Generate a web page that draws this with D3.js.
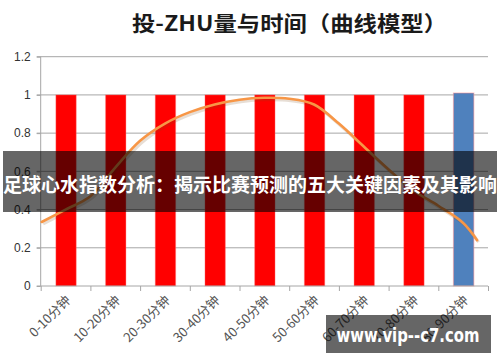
<!DOCTYPE html>
<html><head><meta charset="utf-8">
<script src="https://cdn.jsdelivr.net/npm/d3@7"></script>
<style>
html,body{margin:0;padding:0;background:#fff;}
svg{display:block;}
</style></head>
<body>
<script>
const categories = ["0-10分钟","10-20分钟","20-30分钟","30-40分钟","40-50分钟","50-60分钟","60-70分钟","70-80分钟","80-90分钟"];
const barValues = [1,1,1,1,1,1,1,1,1.01];
const highlightIndex = 8;
const yTicks = [0,0.2,0.4,0.6,0.8,1,1.2];
// smooth curve: position in category units from left axis, value
const curveX = [0.02,0.5,1.0,1.5,2.0,2.5,3.0,3.5,4.0,4.5,5.0,5.5,6.0,6.5,7.0,7.5,8.0,8.5,8.78];
const curveY = [0.335,0.40,0.47,0.62,0.76,0.85,0.91,0.95,0.975,0.985,0.98,0.95,0.85,0.73,0.61,0.50,0.42,0.33,0.24];
const title = "投-ZHU量与时间（曲线模型）";
const banner = "足球心水指数分析：揭示比赛预测的五大关键因素及其影响";
const watermark = "www.vip--c7.com";

const W=500,H=362;
const m={left:40.7,right:488,top:56.7,bottom:286};
const svg=d3.select("body").append("svg").attr("width",W).attr("height",H);
const font="'Noto Sans CJK SC','Noto Sans',sans-serif";

const x=d3.scaleBand().domain(categories).range([m.left,m.right]).paddingInner(0).paddingOuter(0);
const xc=d3.scaleLinear().domain([0,categories.length]).range([m.left,m.right]);
const y=d3.scaleLinear().domain([0,1.2]).range([m.bottom,m.top]);

// title
svg.append("text").attr("x",132).attr("y",31).attr("font-family",font).attr("font-weight","bold")
  .attr("font-size",21).attr("fill","#1a1a1a").attr("textLength",315).attr("lengthAdjust","spacingAndGlyphs").text(title);

// gridlines
svg.append("g").selectAll("line").data(yTicks.filter(d=>d>0)).join("line")
  .attr("x1",m.left-4).attr("x2",m.right).attr("y1",d=>y(d)).attr("y2",d=>y(d))
  .attr("stroke","#a6a6a6").attr("stroke-width",1);

// y axis
const yAxis=d3.axisLeft(y).tickValues(yTicks).tickSize(4).tickFormat(d=>String(+d.toFixed(1)));
const gy=svg.append("g").attr("transform",`translate(${m.left},0)`).call(yAxis);
gy.select(".domain").attr("stroke","#a6a6a6").attr("d",`M-4,${y(0)}H0V${y(1.2)}`);
gy.selectAll(".tick line").attr("stroke","#a6a6a6");
gy.selectAll("text").attr("font-family","'Liberation Sans',Arial,sans-serif").attr("font-size",12).attr("fill","#333").attr("x",-10);

// bars
const bw=x.bandwidth()*0.41;
svg.append("g").selectAll("rect").data(barValues).join("rect")
  .attr("x",(d,i)=>x(categories[i])+x.bandwidth()/2-bw/2+0.5)
  .attr("width",bw)
  .attr("y",d=>y(d)).attr("height",d=>y(0)-y(d))
  .attr("fill",(d,i)=>i===highlightIndex?"#4f81bd":"#ff0000")
  .attr("stroke",(d,i)=>i===highlightIndex?"rgba(255,140,140,0.45)":"rgba(255,120,120,0.3)")
  .attr("stroke-width",1.2);

// x axis
const xAxis=d3.axisBottom(xc).tickValues(d3.range(categories.length+1)).tickSize(5).tickFormat("");
const gx=svg.append("g").attr("transform",`translate(0,${m.bottom})`).call(xAxis);
gx.select(".domain").attr("stroke","#a6a6a6").attr("d",`M${m.left},0H${m.right}`);
gx.selectAll(".tick line").attr("stroke","#a6a6a6");

svg.append("g").selectAll("text").data(categories).join("text")
  .attr("transform",d=>`translate(${x(d)+x.bandwidth()/2+6},${m.bottom+15}) rotate(-45)`)
  .attr("text-anchor","end").attr("font-family",font).attr("font-size",13).attr("fill","#555").text(d=>d);

// curve
const line=d3.line().x((d,i)=>xc(curveX[i])).y(d=>y(d)).curve(d3.curveCatmullRom.alpha(0.5));
svg.append("path").datum(curveY).attr("d",line).attr("fill","none")
  .attr("stroke","rgba(120,70,20,0.18)").attr("stroke-width",3).attr("transform","translate(1.5,2)");
svg.append("path").datum(curveY).attr("d",line).attr("fill","none")
  .attr("stroke","#f79646").attr("stroke-width",2.6).attr("stroke-linecap","round");

// banner overlay
svg.append("rect").attr("x",3).attr("y",151).attr("width",494).attr("height",61).attr("fill","rgba(0,0,0,0.6)");
svg.append("text").attr("x",250).attr("y",192).attr("text-anchor","middle").attr("font-family",font)
  .attr("font-weight","bold").attr("font-size",19).attr("fill","#fff")
  .attr("textLength",494).attr("lengthAdjust","spacingAndGlyphs").text(banner);

// watermark
svg.append("rect").attr("x",326).attr("y",315).attr("width",165).attr("height",38).attr("fill","rgba(0,0,0,0.6)");
svg.append("text").attr("x",408).attr("y",342).attr("text-anchor","middle").attr("font-family","'DejaVu Sans',sans-serif")
  .attr("font-weight","bold").attr("font-size",19).attr("fill","#fff")
  .attr("textLength",143).attr("lengthAdjust","spacingAndGlyphs").text(watermark);
</script>
</body></html>
